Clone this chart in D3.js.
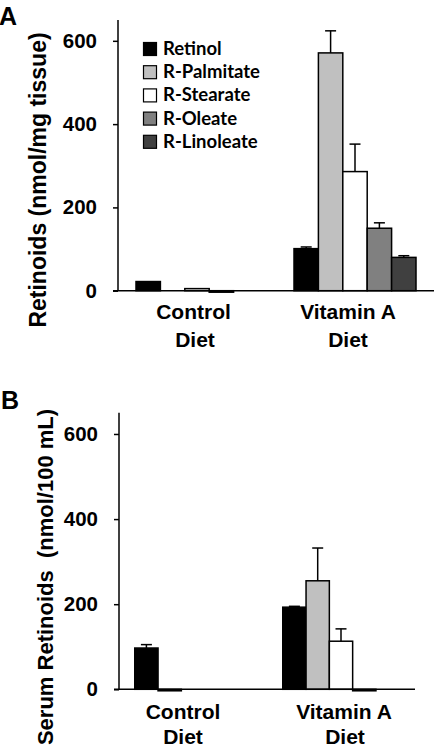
<!DOCTYPE html>
<html><head><meta charset="utf-8">
<script src="https://cdn.jsdelivr.net/npm/d3@7"></script>
<style>body{margin:0;background:#fff}svg{display:block}</style>
</head><body>
<svg id="c" width="435" height="752"></svg>
<script>
const groups = ["Control Diet", "Vitamin A Diet"];
const series = ["Retinol", "R-Palmitate", "R-Stearate", "R-Oleate", "R-Linoleate"];
const colors = ["#000000", "#c0c0c0", "#ffffff", "#808080", "#404040"];
const yTicks = [0, 200, 400, 600];
// Panel A: tissue retinoids (nmol/mg tissue)
const tissueControl = [22, 0, 5, -3, 0];
const tissueControlErr = [0, 0, 0, 0, 0];
const tissueVitA = [101, 571, 286, 150, 80];
const tissueVitAErr = [4, 53, 66, 13, 4];
// Panel B: serum retinoids (nmol/100 mL)
const serumControl = [97, -2, 0, 0, 0];
const serumControlErr = [8, 0, 0, 0, 0];
const serumVitA = [193, 255, 113, -2, 0];
const serumVitAErr = [2, 77, 29, 0, 0];

const svg = d3.select("#c");
const AX = "'Liberation Sans', Arial, sans-serif";

function panel(opt) {
  const g = svg.append("g");
  const x0 = d3.scaleBand().domain(groups).range([opt.x0, opt.x1]);
  const x1 = d3.scaleBand().domain(series).range([0, opt.inner]);
  const y = d3.scaleLinear().domain([0, 650]).range([opt.yb, opt.yt]);
  const data = [opt.ctrl, opt.vit];
  const errs = [opt.ctrlErr, opt.vitErr];

  groups.forEach((grp, gi) => {
    const gx = x0(grp) + (x0.bandwidth() - opt.inner) / 2;
    const gg = g.append("g").attr("transform", `translate(${gx},0)`);
    series.forEach((s, si) => {
      const v = data[gi][si];
      if (v === 0) return;
      gg.append("rect")
        .attr("x", x1(s)).attr("width", x1.bandwidth())
        .attr("y", Math.min(y(v), y(0)))
        .attr("height", Math.max(Math.abs(y(v) - y(0)), 1.5))
        .attr("fill", colors[si]).attr("stroke", "#000").attr("stroke-width", 1.5);
      const e = errs[gi][si];
      if (e > 0) {
        const cx = x1(s) + x1.bandwidth() / 2;
        gg.append("line").attr("x1", cx).attr("x2", cx)
          .attr("y1", y(v)).attr("y2", y(v + e)).attr("stroke", "#000").attr("stroke-width", 1.5);
        gg.append("line").attr("x1", cx - 5.5).attr("x2", cx + 5.5)
          .attr("y1", y(v + e)).attr("y2", y(v + e)).attr("stroke", "#000").attr("stroke-width", 1.5);
      }
    });
  });

  // y axis
  const ya = g.append("g").attr("transform", `translate(${opt.x0},0)`)
    .call(d3.axisLeft(y).tickValues(yTicks).tickSize(5).tickPadding(16));
  ya.select(".domain").remove();
  ya.selectAll(".tick line").attr("stroke", "#000").attr("stroke-width", 1.5);
  ya.selectAll(".tick text").attr("font-family", AX).attr("font-weight", "bold")
    .attr("font-size", 20.5).attr("fill", "#000");
  g.append("line").attr("x1", opt.x0).attr("x2", opt.x0)
    .attr("y1", y(650)).attr("y2", y(0)).attr("stroke", "#000").attr("stroke-width", 1.5);
  g.append("line").attr("x1", opt.x0 - 5).attr("x2", opt.xEnd)
    .attr("y1", y(0)).attr("y2", y(0)).attr("stroke", "#000").attr("stroke-width", 1.5);

  // category labels
  groups.forEach((grp, gi) => {
    const words = grp === "Control Diet" ? ["Control", "Diet"] : ["Vitamin A", "Diet"];
    words.forEach((w, wi) => {
      g.append("text").attr("x", x0(grp) + x0.bandwidth() / 2 + opt.lblOff[gi][wi])
        .attr("y", opt.lblY + wi * opt.lblDy)
        .attr("text-anchor", "middle").attr("font-family", AX).attr("font-weight", "bold")
        .attr("font-size", 21).attr("fill", "#000").text(w);
    });
  });

  // y title
  g.append("text").attr("transform", `translate(${opt.tx},${opt.ty}) rotate(-90)`)
    .attr("text-anchor", "middle").attr("font-family", AX).attr("font-weight", "bold")
    .attr("font-size", opt.tfs).attr("fill", "#000").attr("xml:space", "preserve")
    .style("white-space", "pre").text(opt.title);

  // panel letter
  g.append("text").attr("x", opt.lx).attr("y", opt.ly).attr("font-family", AX)
    .attr("font-weight", "bold").attr("font-size", 25).attr("fill", "#000").text(opt.letter);
  return {x0, y};
}

panel({x0: 118, x1: 434, xEnd: 434, inner: 122, yb: 290.7, yt: 20,
  ctrl: tissueControl, ctrlErr: tissueControlErr, vit: tissueVitA, vitErr: tissueVitAErr,
  lblOff: [[-3.5, -2], [-7, -7]], lblY: 319, lblDy: 28,
  title: "Retinoids (nmol/mg tissue)", tx: 46, ty: 180, tfs: 23, letter: "A", lx: -1, ly: 25});

panel({x0: 119, x1: 415, xEnd: 415, inner: 116.5, yb: 689.3, yt: 412.7,
  ctrl: serumControl, ctrlErr: serumControlErr, vit: serumVitA, vitErr: serumVitAErr,
  lblOff: [[-10, -10], [3, 4]], lblY: 719, lblDy: 25,
  title: "Serum Retinoids  (nmol/100 mL)", tx: 53, ty: 577, tfs: 22, letter: "B", lx: 1, ly: 409});

// legend (panel A)
const leg = svg.append("g");
series.forEach((s, i) => {
  const cy = 49 + i * 23.2;
  leg.append("rect").attr("x", 143.5).attr("y", cy - 6.5).attr("width", 13).attr("height", 13)
    .attr("fill", colors[i]).attr("stroke", "#000").attr("stroke-width", 1.2);
  leg.append("text").attr("x", 163).attr("y", cy + 6).attr("font-family", "Lato, sans-serif")
    .attr("font-weight", "bold").attr("font-size", 18.5).attr("fill", "#000").text(s);
});
</script>
</body></html>
